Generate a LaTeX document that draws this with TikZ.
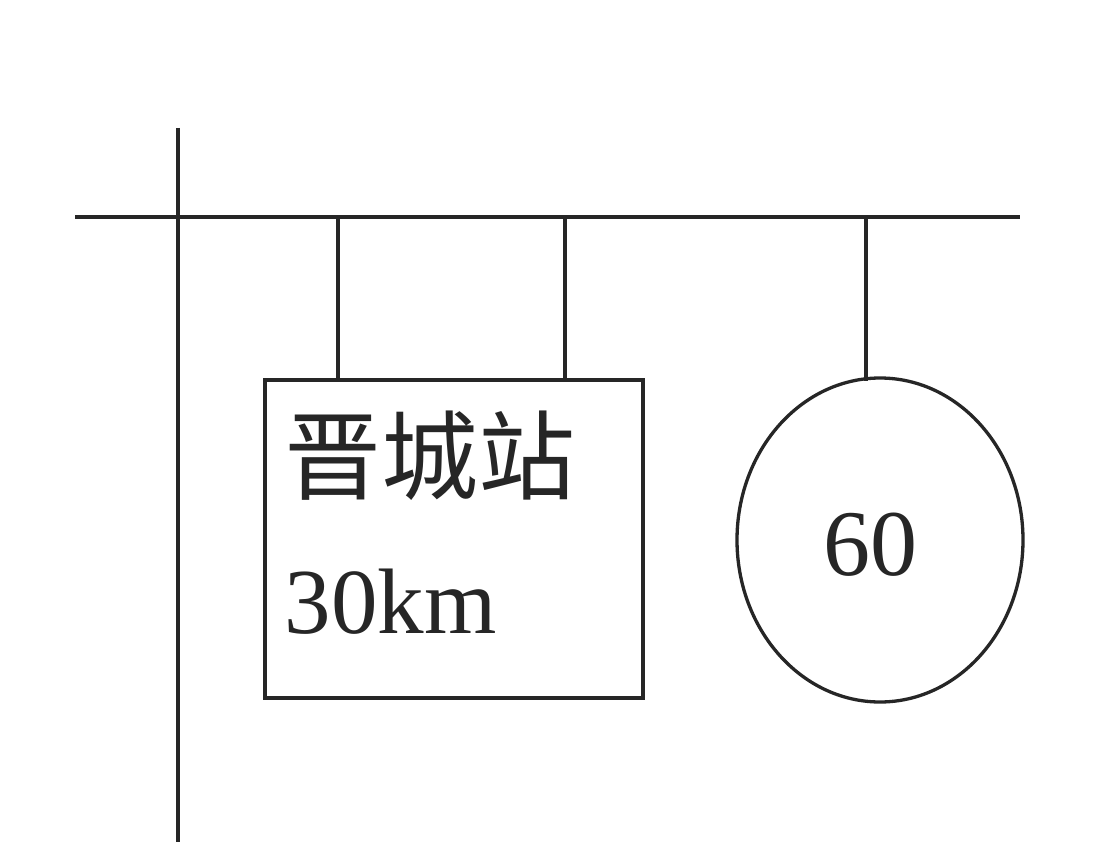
\documentclass[tikz,border=0pt]{standalone}
\usepackage{fontspec}
\setmainfont{Liberation Serif}
\newfontfamily\cjk{Noto Sans CJK SC}
\usetikzlibrary{shapes.geometric}
\begin{document}
\begin{tikzpicture}[x=1pt,y=-1pt,line width=3.3pt,
  ln/.style={draw=black!85},
  signbox/.style={draw=black!85,minimum width=378pt,minimum height=318pt,inner sep=0pt},
  speed/.style={draw=black!85,ellipse,minimum width=286pt,minimum height=324pt,inner sep=0pt}]
\useasboundingbox[fill=white] (0,0) rectangle (1119,842);
\coordinate (poleT) at (178,128);
\coordinate (poleB) at (178,842);
\coordinate (barL) at (75,217);
\coordinate (barR) at (1020,217);
\draw[ln] (poleT) -- (poleB);
\draw[ln] (barL) -- (barR);
\node[signbox] (box) at (454,539) {};
\node[speed] (circ) at (880,540) {};
\coordinate (h1) at (338,217);
\coordinate (h2) at (565,217);
\coordinate (h3) at (866,217);
\draw[ln] (h1) -- (h1 |- box.north);
\draw[ln] (h2) -- (h2 |- box.north);
\draw[ln] (h3) -- (866,381);
\node[anchor=west,font=\cjk\fontsize{97}{99}\selectfont,inner sep=0pt,text=black!85] (name) at (283,456) {晋城站};
\node[anchor=west,font=\fontsize{93}{95}\selectfont,inner sep=0pt,text=black!85] (dist) at (283,602) {30km};
\node[font=\fontsize{94}{96}\selectfont,inner sep=0pt,text=black!85] (lim) at (870,545) {60};
\end{tikzpicture}
\end{document}
